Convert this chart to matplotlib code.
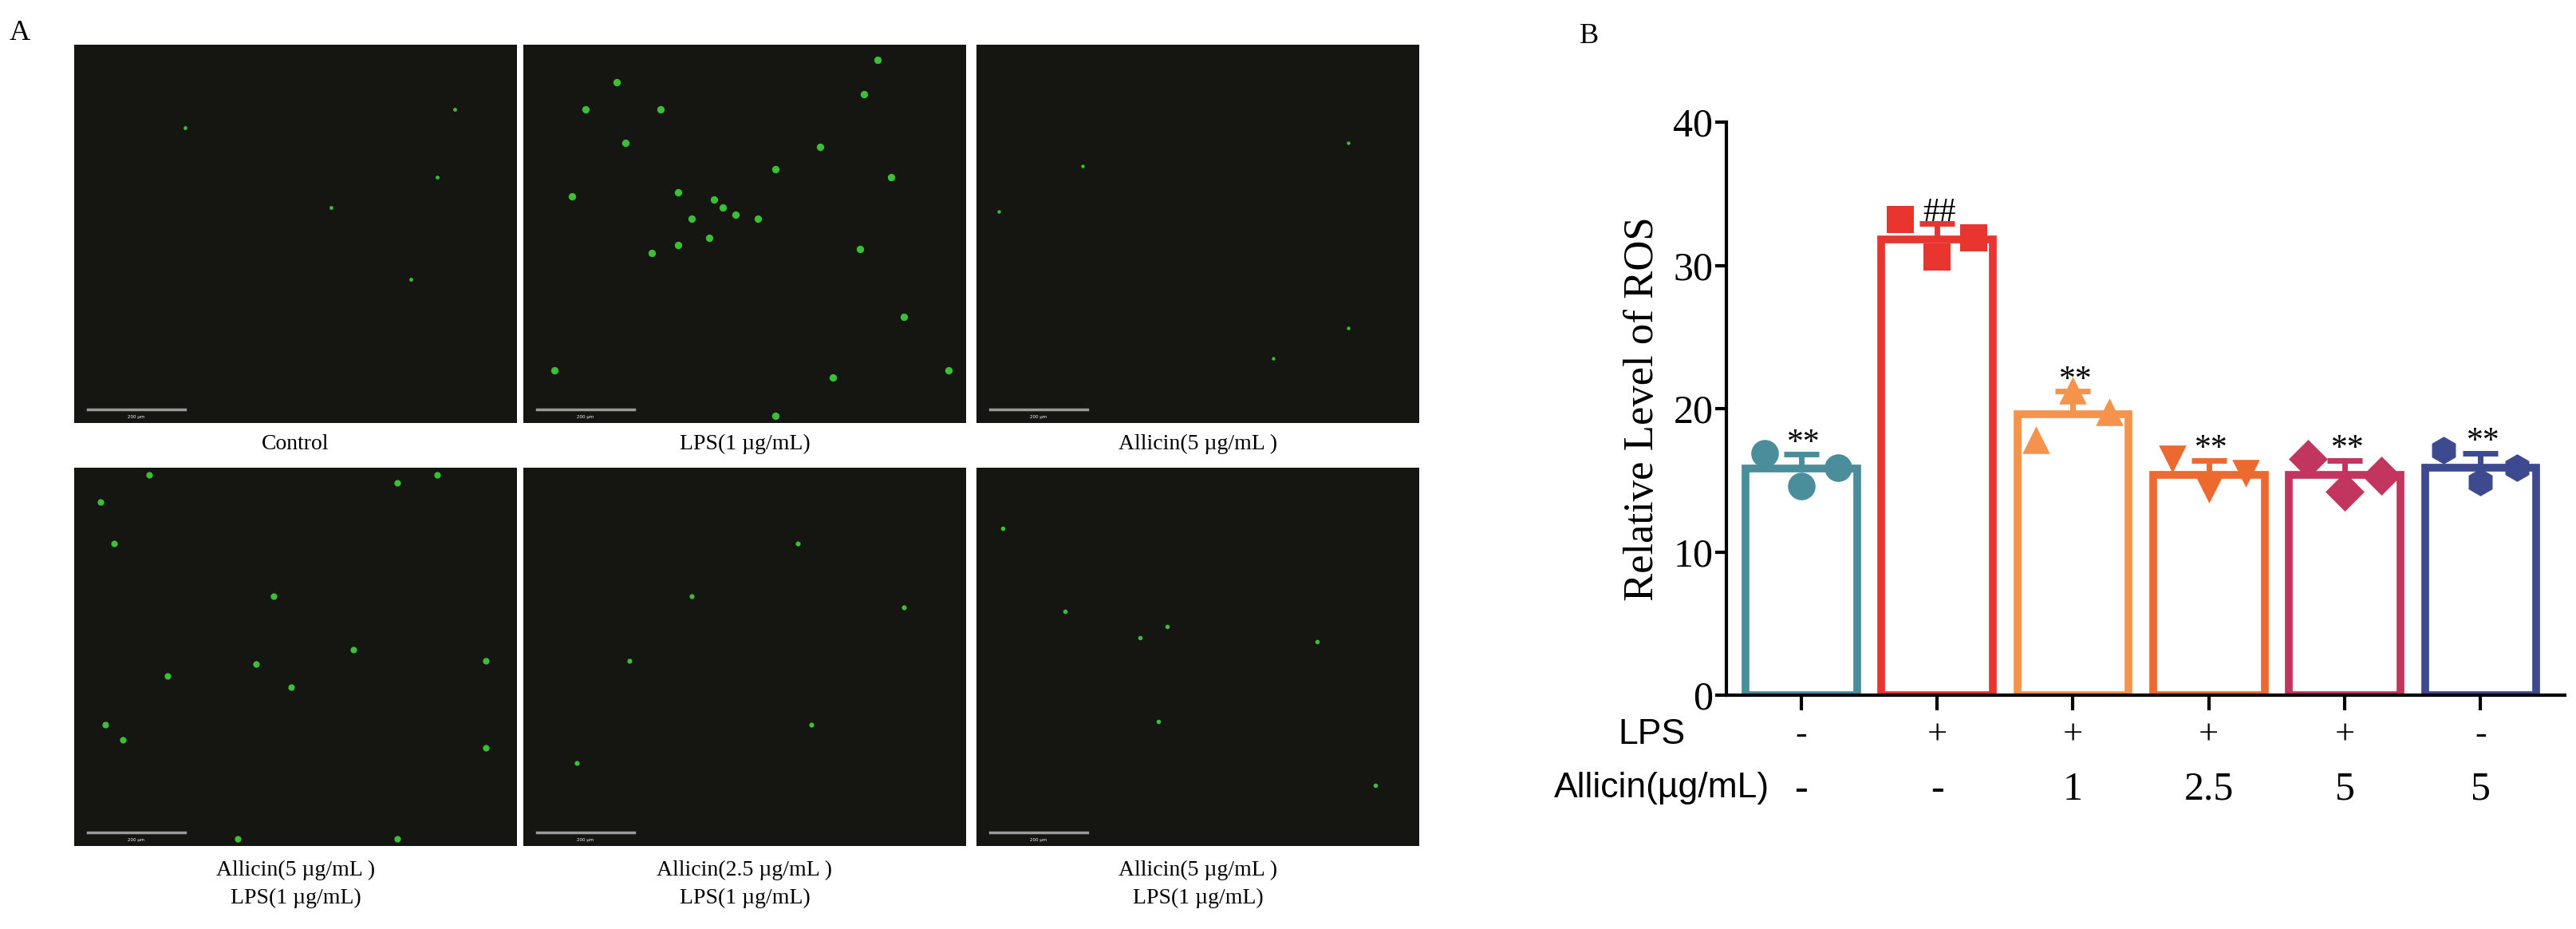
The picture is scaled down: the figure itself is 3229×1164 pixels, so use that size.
import matplotlib
matplotlib.use("Agg")
import matplotlib.pyplot as plt
import numpy as np

W, H = 3230, 1164
fig = plt.figure(figsize=(W / 100, H / 100), dpi=100)
fig.patch.set_facecolor("white")
SERIF = ["Liberation Serif", "DejaVu Serif"]
SANS = ["Liberation Sans", "DejaVu Sans"]

# ---- panel A: fluorescence images (dot positions as panel fractions, y from top)
captions = ["Control", "LPS(1 \u00b5g/mL)", "Allicin(5 \u00b5g/mL )",
            "Allicin(5 \u00b5g/mL )\nLPS(1 \u00b5g/mL)",
            "Allicin(2.5 \u00b5g/mL )\nLPS(1 \u00b5g/mL)",
            "Allicin(5 \u00b5g/mL )\nLPS(1 \u00b5g/mL)"]
dots_x = [
    [0.76, 0.25, 0.86, 0.58, 0.82],
    [0.21, 0.31, 0.77, 0.80, 0.57, 0.67, 0.11, 0.35, 0.45, 0.48, 0.42, 0.38,
     0.53, 0.43, 0.35, 0.29, 0.83, 0.14, 0.07, 0.70, 0.96, 0.86, 0.57, 0.76, 0.23],
    [0.84, 0.67, 0.24, 0.05, 0.84],
    [0.17, 0.06, 0.73, 0.82, 0.93, 0.63, 0.41, 0.49, 0.07, 0.11, 0.93, 0.73,
     0.37, 0.21, 0.09, 0.45],
    [0.62, 0.86, 0.24, 0.65, 0.38, 0.12],
    [0.06, 0.37, 0.43, 0.77, 0.90, 0.41, 0.20],
]
dots_y = [
    [0.62, 0.22, 0.17, 0.43, 0.35],
    [0.10, 0.17, 0.13, 0.04, 0.33, 0.27, 0.40, 0.39, 0.43, 0.45, 0.51, 0.46,
     0.46, 0.41, 0.53, 0.55, 0.35, 0.17, 0.86, 0.88, 0.86, 0.72, 0.98, 0.54, 0.26],
    [0.75, 0.83, 0.32, 0.44, 0.26],
    [0.02, 0.09, 0.04, 0.02, 0.51, 0.48, 0.52, 0.58, 0.68, 0.72, 0.74, 0.98,
     0.98, 0.55, 0.20, 0.34],
    [0.20, 0.37, 0.51, 0.68, 0.34, 0.78],
    [0.16, 0.45, 0.42, 0.46, 0.84, 0.67, 0.38],
]
dot_size = [12, 45, 10, 35, 20, 16]

panel_x = [93, 656, 1224]
panel_y = [56, 586]
pw, ph = 555, 474
for i in range(6):
    r, c = divmod(i, 3)
    x0, y0 = panel_x[c], panel_y[r]
    ax = fig.add_axes([x0 / W, 1 - (y0 + ph) / H, pw / W, ph / H])
    ax.set_facecolor("#151612")
    ax.set_xlim(0, 1)
    ax.set_ylim(1, 0)
    ax.set_xticks([])
    ax.set_yticks([])
    for s in ax.spines.values():
        s.set_visible(False)
    ax.scatter(dots_x[i], dots_y[i], s=dot_size[i], color="#3fd33a",
               marker="o", linewidths=0, alpha=0.9)
    ax.plot([0.03, 0.25], [0.965, 0.965], color="#9a9a9a", lw=2.5)
    ax.text(0.14, 0.99, "200 \u00b5m", color="white", fontsize=4,
            ha="center", va="bottom")
    cy = y0 + ph + (14 if r == 0 else 18)
    fig.text((x0 + pw / 2) / W, 1 - cy / H, captions[i], ha="center", va="top",
             fontsize=20, family=SERIF, linespacing=1.5)
fig.text(12 / W, 1 - 42 / H, "A", fontsize=26, family=SERIF, va="center")

# ---- panel B: bar chart
means = [15.8, 31.8, 19.6, 15.4, 15.4, 15.9]
sds = [1.0, 1.1, 1.6, 1.0, 1.0, 1.0]
points = [[16.9, 14.6, 15.9], [33.2, 30.6, 31.9], [17.8, 21.3, 19.8],
          [16.5, 14.4, 15.5], [16.5, 14.2, 15.3], [17.1, 14.9, 15.9]]
markers = ["o", "s", "^", "v", "D", "h"]
colors = ["#4a8e9b", "#e8352f", "#f5924c", "#ec6a30", "#c1355f", "#3d4a8f"]
signs = ["**", "##", "**", "**", "**", "**"]
lps = ["-", "+", "+", "+", "+", "-"]
allicin = ["-", "-", "1", "2.5", "5", "5"]

bx = fig.add_axes([2164 / W, 1 - 871 / H, (3215 - 2164) / W, (871 - 153) / H])
xs = np.arange(6)
bx.bar(xs, means, width=0.82, color="white", edgecolor=colors, linewidth=7,
       zorder=2)
for i in range(6):
    bx.errorbar(xs[i], means[i], yerr=[[0], [sds[i]]], color=colors[i],
                capsize=16, capthick=5, elinewidth=5, zorder=3)
    bx.scatter(xs[i] + np.array([-0.27, 0.0, 0.27]), points[i], s=620,
               marker=markers[i], color=colors[i], zorder=4, linewidths=0)
    bx.text(xs[i] + 0.02, means[i] + sds[i] - 0.3, signs[i], ha="center",
            va="bottom", fontsize=30, family=SERIF)
bx.set_xlim(-0.55, 5.62)
bx.set_ylim(0, 40)
bx.set_yticks([0, 10, 20, 30, 40])
bx.set_yticklabels(["0", "10", "20", "30", "40"], family=SERIF, fontsize=36)
bx.set_xticks(xs)
bx.set_xticklabels([""] * 6)
bx.tick_params(axis="both", width=3, length=10, direction="out", pad=2)
bx.tick_params(axis="x", length=14)
for s in ["top", "right"]:
    bx.spines[s].set_visible(False)
for s in ["left", "bottom"]:
    bx.spines[s].set_linewidth(3)
bx.set_ylabel("Relative Level of ROS", family=SERIF, fontsize=38, labelpad=10)

tr = bx.get_xaxis_transform()
for i in range(6):
    bx.text(xs[i], -0.07, lps[i], transform=tr, ha="center", va="center",
            fontsize=32, family=SERIF)
    bx.text(xs[i], -0.165, allicin[i], transform=tr, ha="center", va="center",
            fontsize=36, family=SERIF)
fig.text(2070 / W, 1 - 921 / H, "LPS", ha="center", va="center", fontsize=32,
         family=SANS)
fig.text(2218 / W, 1 - 988 / H, "Allicin(\u00b5g/mL)", ha="right",
         va="center", fontsize=32, family=SANS)
fig.text(1980 / W, 1 - 45 / H, "B", fontsize=26, family=SERIF, va="center")

fig.savefig("out.png", dpi=100, facecolor="white")
